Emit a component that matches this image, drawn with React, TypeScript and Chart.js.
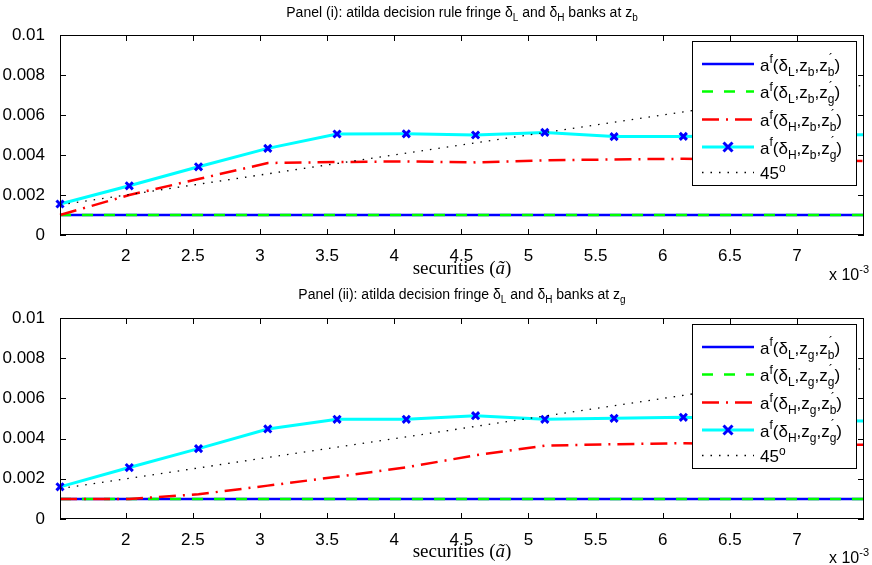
import React, { useEffect, useRef } from "react";
import { Chart, registerables } from "chart.js";

Chart.register(...registerables);

// all values in units of 10^-3
const SCALE = 1e-3;
const xGrid = [1.51, 2.026, 2.542, 3.058, 3.574, 4.09, 4.606, 5.122, 5.638, 6.154, 6.67, 7.186, 7.702];
const line45 = [1.51, 2.026, 2.542, 3.058, 3.574, 4.09, 4.606, 5.122, 5.638, 6.154, 6.67, 7.186, 7.702];
const xTicks = [2, 2.5, 3, 3.5, 4, 4.5, 5, 5.5, 6, 6.5, 7];
const yTicks = [0, 0.002, 0.004, 0.006, 0.008, 0.01];
const yTickLabels = ["0", "0.002", "0.004", "0.006", "0.008", "0.01"];
const X_MIN = 1.51;
const X_MAX = 7.5;

// Panel (i): z_b
const p1_L_b = [1.0, 1.0, 1.0, 1.0, 1.0, 1.0, 1.0, 1.0, 1.0, 1.0, 1.0, 1.0, 1.0];
const p1_L_g = [1.0, 1.0, 1.0, 1.0, 1.0, 1.0, 1.0, 1.0, 1.0, 1.0, 1.0, 1.0, 1.0];
const p1_H_b = [1.0, 2.0, 2.8, 3.6, 3.65, 3.68, 3.63, 3.73, 3.78, 3.81, 3.78, 3.72, 3.68];
const p1_H_g = [1.55, 2.46, 3.41, 4.33, 5.05, 5.06, 5.0, 5.13, 4.92, 4.93, 4.97, 5.0, 5.02];

// Panel (ii): z_g
const p2_L_b = [1.0, 1.0, 1.0, 1.0, 1.0, 1.0, 1.0, 1.0, 1.0, 1.0, 1.0, 1.0, 1.0];
const p2_L_g = [1.0, 1.0, 1.0, 1.0, 1.0, 1.0, 1.0, 1.0, 1.0, 1.0, 1.0, 1.0, 1.0];
const p2_H_b = [1.0, 1.0, 1.23, 1.66, 2.1, 2.57, 3.17, 3.65, 3.72, 3.77, 3.73, 3.7, 3.69];
const p2_H_g = [1.6, 2.56, 3.5, 4.48, 4.96, 4.96, 5.14, 4.96, 5.01, 5.06, 4.95, 4.9, 4.85];

const SANS = "'Liberation Sans', Arial, Helvetica, sans-serif";
const SERIF = "'Liberation Serif', 'Times New Roman', serif";

type Seg = { t: string; k?: "sup" | "sub" | "ps"; s?: string; it?: boolean };

function drawRich(
  ctx: CanvasRenderingContext2D,
  segs: Seg[],
  x: number,
  y: number,
  size: number,
  family: string,
  align: "left" | "center" | "right"
) {
  const small = Math.round(size * 0.7);
  const fontOf = (sz: number, it?: boolean) => `${it ? "italic " : ""}${sz}px ${family}`;
  const widths = segs.map((s) => {
    if (s.k === "ps") {
      ctx.font = fontOf(small);
      return Math.max(ctx.measureText(s.t).width, ctx.measureText(s.s || "").width);
    }
    ctx.font = fontOf(s.k ? small : size, s.it);
    return ctx.measureText(s.t).width;
  });
  const total = widths.reduce((a, b) => a + b, 0);
  let cx = align === "left" ? x : align === "center" ? x - total / 2 : x - total;
  ctx.textAlign = "left";
  ctx.textBaseline = "alphabetic";
  segs.forEach((s, i) => {
    if (s.k === "ps") {
      ctx.font = fontOf(small);
      ctx.fillText(s.t, cx + 1, y - size * 0.42);
      ctx.fillText(s.s || "", cx, y + size * 0.3);
    } else if (s.k === "sup") {
      ctx.font = fontOf(small, s.it);
      ctx.fillText(s.t, cx, y - size * 0.42);
    } else if (s.k === "sub") {
      ctx.font = fontOf(small, s.it);
      ctx.fillText(s.t, cx, y + size * 0.3);
    } else {
      ctx.font = fontOf(size, s.it);
      ctx.fillText(s.t, cx, y);
    }
    cx += widths[i];
  });
}

type Row = { color: string; width: number; dash: number[]; marker?: boolean; segs: Seg[] };

function legendRows(z: string): Row[] {
  const lbl = (d: string, zp: string): Seg[] => [
    { t: "a" },
    { t: "f", k: "sup" },
    { t: "(" },
    { t: "δ" },
    { t: d, k: "sub" },
    { t: "," },
    { t: "z" },
    { t: z, k: "sub" },
    { t: "," },
    { t: "z" },
    { t: "´", k: "ps", s: zp },
    { t: ")" },
  ];
  return [
    { color: "#0000ff", width: 2.5, dash: [], segs: lbl("L", "b") },
    { color: "#00ff00", width: 2.5, dash: [11, 11], segs: lbl("L", "g") },
    { color: "#ff0000", width: 2.5, dash: [17, 7, 2, 7], segs: lbl("H", "b") },
    { color: "#00ffff", width: 3, dash: [], marker: true, segs: lbl("H", "g") },
    { color: "#000000", width: 1.3, dash: [1.5, 7], segs: [{ t: "45" }, { t: "o", k: "sup" }] },
  ];
}

function drawCross(ctx: CanvasRenderingContext2D, x: number, y: number) {
  const r = 4.5;
  ctx.save();
  ctx.setLineDash([]);
  ctx.strokeStyle = "#0000ff";
  ctx.lineWidth = 3;
  ctx.beginPath();
  ctx.moveTo(x - r, y - r);
  ctx.lineTo(x + r, y + r);
  ctx.moveTo(x - r, y + r);
  ctx.lineTo(x + r, y - r);
  ctx.stroke();
  ctx.restore();
}

function makeConfig(panel: "i" | "ii", z: string, series: number[][], xAxisH: number, padTop: number) {
  const pts = (arr: number[]) => xGrid.map((x, i) => ({ x: x * SCALE, y: arr[i] * SCALE }));
  const [lb, lg, hb, hg] = series;
  const titleSegs: Seg[] =
    panel === "i"
      ? [
          { t: "Panel (i): atilda decision rule fringe δ" },
          { t: "L", k: "sub" },
          { t: " and δ" },
          { t: "H", k: "sub" },
          { t: " banks at z" },
          { t: z, k: "sub" },
        ]
      : [
          { t: "Panel (ii): atilda decision fringe δ" },
          { t: "L", k: "sub" },
          { t: " and δ" },
          { t: "H", k: "sub" },
          { t: " banks at z" },
          { t: z, k: "sub" },
        ];

  const decor = {
    id: "matlabDecor",
    afterDatasetsDraw(chart: any) {
      const ctx: CanvasRenderingContext2D = chart.ctx;
      const { left, right, top, bottom } = chart.chartArea;
      const xs = chart.scales.x;
      const ys = chart.scales.y;
      ctx.save();
      ctx.setLineDash([]);
      ctx.strokeStyle = "#000";
      ctx.lineWidth = 1;
      ctx.strokeRect(left + 0.5, top + 0.5, right - left - 1, bottom - top - 1);
      ctx.beginPath();
      const tl = 6;
      xTicks.forEach((v) => {
        const px = Math.round(xs.getPixelForValue(v * SCALE)) + 0.5;
        ctx.moveTo(px, bottom);
        ctx.lineTo(px, bottom - tl);
        ctx.moveTo(px, top);
        ctx.lineTo(px, top + tl);
      });
      yTicks.forEach((v) => {
        const py = Math.round(ys.getPixelForValue(v)) + 0.5;
        ctx.moveTo(left, py);
        ctx.lineTo(left + tl, py);
        ctx.moveTo(right, py);
        ctx.lineTo(right - tl, py);
      });
      ctx.stroke();

      // legend
      const L = right - 172;
      const T = top + 6;
      const R = right - 8;
      const B = T + 144;
      ctx.fillStyle = "#fff";
      ctx.fillRect(L, T, R - L, B - T);
      ctx.strokeStyle = "#000";
      ctx.lineWidth = 1;
      ctx.strokeRect(L + 0.5, T + 0.5, R - L, B - T);
      const rowY = [23, 50.5, 78.5, 106, 131.5];
      legendRows(z).forEach((row, i) => {
        const y = T + rowY[i];
        ctx.save();
        ctx.strokeStyle = row.color;
        ctx.lineWidth = row.width;
        ctx.setLineDash(row.dash);
        ctx.beginPath();
        ctx.moveTo(L + 10, y);
        ctx.lineTo(L + 62, y);
        ctx.stroke();
        ctx.restore();
        if (row.marker) drawCross(ctx, L + 36, y);
        ctx.fillStyle = "#000";
        drawRich(ctx, row.segs, L + 68, y + 6.5, 17, SANS, "left");
      });

      // title
      ctx.fillStyle = "#000";
      drawRich(ctx, titleSegs, (left + right) / 2, 17, 14, SANS, "center");

      // x label
      const cw = chart.width;
      const ch = chart.height;
      drawRich(
        ctx,
        [{ t: "securities (" }, { t: "ã", it: true }, { t: ")" }],
        (left + right) / 2,
        ch - 8,
        19,
        SERIF,
        "center"
      );
      // exponent
      drawRich(ctx, [{ t: "x 10" }, { t: "-3", k: "sup" }], cw - 3, ch - 2, 16, SANS, "right");
      ctx.restore();
    },
  };

  const clip = { left: 8, top: 6, right: 0, bottom: 6 };

  return {
    type: "line" as const,
    data: {
      datasets: [
        {
          label: "45",
          data: pts(line45),
          borderColor: "#000",
          borderWidth: 1.3,
          borderDash: [1.5, 7],
          pointRadius: 0,
          order: 1,
          clip,
        },
        {
          label: "H g",
          data: pts(hg),
          borderColor: "#00ffff",
          borderWidth: 3,
          pointStyle: "crossRot",
          pointRadius: 5,
          pointBorderColor: "#0000ff",
          pointBorderWidth: 3,
          pointBackgroundColor: "#0000ff",
          order: 2,
          clip,
        },
        {
          label: "H b",
          data: pts(hb),
          borderColor: "#ff0000",
          borderWidth: 2.5,
          borderDash: [17, 7, 2, 7],
          pointRadius: 0,
          order: 3,
          clip,
        },
        {
          label: "L g",
          data: pts(lg),
          borderColor: "#00ff00",
          borderWidth: 2.5,
          borderDash: [11, 11],
          pointRadius: 0,
          order: 4,
          clip,
        },
        {
          label: "L b",
          data: pts(lb),
          borderColor: "#0000ff",
          borderWidth: 2.5,
          pointRadius: 0,
          order: 5,
          clip,
        },
      ],
    },
    options: {
      animation: false as const,
      responsive: false,
      devicePixelRatio: 1,
      events: [],
      layout: { padding: { top: padTop, right: 3, left: 0, bottom: 0 } },
      plugins: { legend: { display: false }, tooltip: { enabled: false }, title: { display: false } },
      elements: { line: { tension: 0 } },
      scales: {
        x: {
          type: "linear" as const,
          min: X_MIN * SCALE,
          max: X_MAX * SCALE,
          grid: { display: false },
          border: { display: false },
          afterBuildTicks: (s: any) => {
            s.ticks = xTicks.map((v) => ({ value: v * SCALE }));
          },
          afterFit: (s: any) => {
            s.height = xAxisH;
          },
          ticks: {
            autoSkip: false,
            maxRotation: 0,
            padding: 3,
            color: "#000",
            font: { family: SANS, size: 17 },
            callback: (v: any) => String(Math.round((Number(v) / SCALE) * 10) / 10),
          },
        },
        y: {
          type: "linear" as const,
          min: 0,
          max: 0.01,
          grid: { display: false },
          border: { display: false },
          afterBuildTicks: (s: any) => {
            s.ticks = yTicks.map((v) => ({ value: v }));
          },
          afterFit: (s: any) => {
            s.width = 60;
          },
          ticks: {
            autoSkip: false,
            padding: 7,
            color: "#000",
            font: { family: SANS, size: 17 },
            callback: (_v: any, i: number) => yTickLabels[i],
          },
        },
      },
    },
    plugins: [decor],
  };
}

function Panel(props: { panel: "i" | "ii"; z: string; series: number[][]; h: number; xAxisH: number; padTop: number }) {
  const ref = useRef<HTMLCanvasElement>(null);
  useEffect(() => {
    const cfg: any = makeConfig(props.panel, props.z, props.series, props.xAxisH, props.padTop);
    const chart = new Chart(ref.current as HTMLCanvasElement, cfg);
    return () => chart.destroy();
  }, []);
  return <canvas ref={ref} width={872} height={props.h} style={{ display: "block", width: 872, height: props.h }} />;
}

export default function App() {
  return (
    <div style={{ position: "absolute", left: 0, top: 0, width: 872, height: 565, background: "#fff" }}>
      <Panel panel="i" z="b" series={[p1_L_b, p1_L_g, p1_H_b, p1_H_g]} h={282} xAxisH={47} padTop={35} />
      <Panel panel="ii" z="g" series={[p2_L_b, p2_L_g, p2_H_b, p2_H_g]} h={283} xAxisH={46} padTop={36} />
    </div>
  );
}
